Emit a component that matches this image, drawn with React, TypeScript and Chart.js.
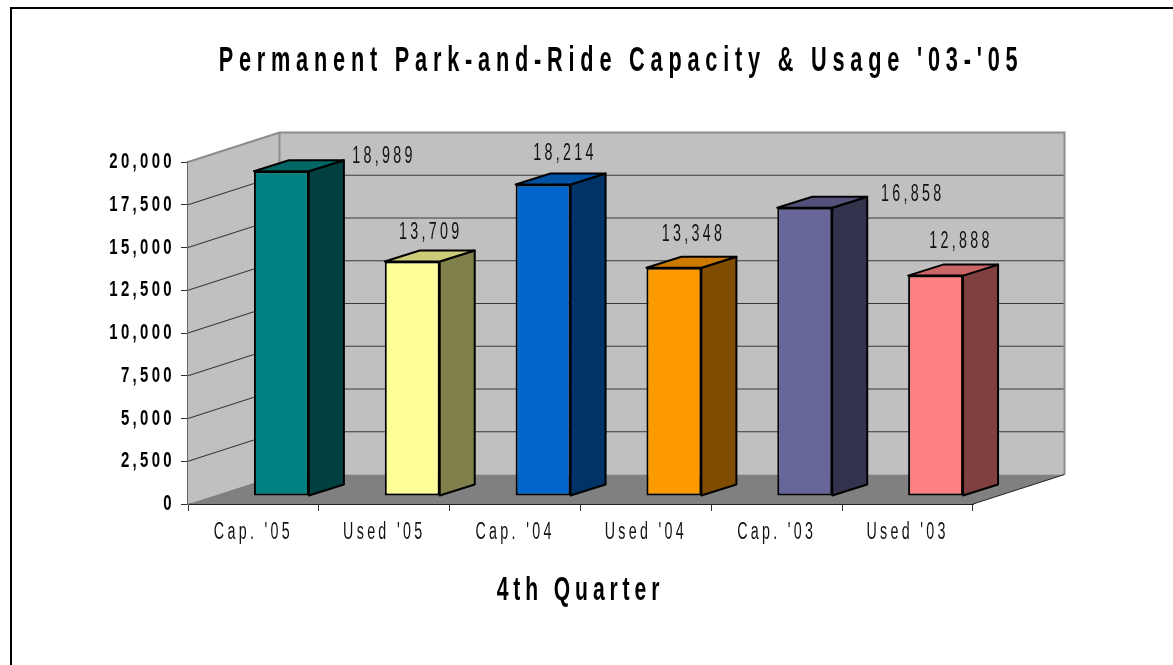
import React, { useEffect, useRef } from "react";
import { Chart, registerables } from "chart.js";

Chart.register(...registerables);

const categories = ["Cap. '05", "Used '05", "Cap. '04", "Used '04", "Cap. '03", "Used '03"];
const values = [18989, 13709, 18214, 13348, 16858, 12888];
const barColors = ["#008080", "#FFFF99", "#0066CC", "#FF9900", "#666699", "#FF8080"];
const titleText = "Permanent Park-and-Ride Capacity & Usage '03-'05";
const xTitleText = "4th Quarter";

const FONT = "'Liberation Sans'";
const W = 1173;
const H = 665;
// 3D projection of the floor depth (px) and of the bars inside it
const WALL = { dx: 91.5, dy: -29.5 };
const BAR_SHIFT = { dx: 28, dy: -8 };
const BAR_DEPTH = { dx: 35, dy: -11 };
// label nudges from the front-top-centre of each bar
const LABEL_NUDGE = [
  [102.5, -15], [18.5, -29], [22, -31], [19.5, -33], [108, -13], [25.5, -34],
];
const TEXT_STYLES: Record<string, { sx: number; ls: number }> = {
  "b35": { sx: 0.62, ls: 9.35 },
  "b34": { sx: 0.62, ls: 7.9 },
  "b22": { sx: 0.68, ls: 4.9 },
  "r23": { sx: 0.62, ls: 5.35 },
};

function shade(hex: string, f: number) {
  const n = parseInt(hex.slice(1), 16);
  const c = [(n >> 16) & 255, (n >> 8) & 255, n & 255].map((v) => Math.round(v * f));
  return `rgb(${c[0]},${c[1]},${c[2]})`;
}

function patchText(ctx: any) {
  const orig = ctx.fillText;
  ctx.fillText = function (text: string, x: number, y: number) {
    const m = /(bold\s+)?.*?(\d+(?:\.\d+)?)px/.exec(ctx.font);
    const key = (m && m[1] ? "b" : "r") + (m ? Math.round(parseFloat(m[2])) : 0);
    const st = TEXT_STYLES[key] || { sx: 1, ls: 0 };
    ctx.save();
    ctx.translate(x, y);
    ctx.scale(st.sx, 1);
    ctx.letterSpacing = st.ls + "px";
    orig.call(ctx, text, 0, 0);
    ctx.restore();
  };
}

function poly(ctx: any, pts: number[][]) {
  ctx.beginPath();
  pts.forEach((p, i) => (i ? ctx.lineTo(p[0], p[1]) : ctx.moveTo(p[0], p[1])));
  ctx.closePath();
}

const scene3d = {
  id: "scene3d",
  afterLayout(chart: any) {
    const t = chart.titleBlock;
    if (t) {
      t.left = 269;
      t.right = 973;
    }
  },
  beforeDraw(chart: any) {
    const ctx = chart.ctx;
    ctx.save();
    ctx.fillStyle = "#fff";
    ctx.fillRect(0, 0, W, H);
    ctx.strokeStyle = "#000";
    ctx.lineWidth = 2;
    ctx.beginPath();
    ctx.moveTo(11, H);
    ctx.lineTo(11, 8);
    ctx.lineTo(W, 8);
    ctx.stroke();
    ctx.restore();
  },
  beforeDatasetsDraw(chart: any) {
    const ctx = chart.ctx;
    const { left: l, right: r, top: t, bottom: b } = chart.chartArea;
    const { dx, dy } = WALL;
    ctx.save();
    // walls and floor
    ctx.fillStyle = "#C0C0C0";
    poly(ctx, [[l, t], [l + dx, t + dy], [r + dx, t + dy], [r + dx, b + dy], [l + dx, b + dy], [l, b]]);
    ctx.fill();
    ctx.fillStyle = "#808080";
    poly(ctx, [[l, b], [r, b], [r + dx, b + dy], [l + dx, b + dy]]);
    ctx.fill();
    // gridlines from the value scale
    const y = chart.scales.y;
    ctx.strokeStyle = "#3a3a3a";
    ctx.lineWidth = 1.2;
    y.ticks.forEach((tk: any) => {
      if (tk.value === 0 || tk.value === y.max) return;
      const py = y.getPixelForValue(tk.value);
      ctx.beginPath();
      ctx.moveTo(l, py);
      ctx.lineTo(l + dx, py + dy);
      ctx.lineTo(r + dx, py + dy);
      ctx.stroke();
    });
    // wall edges
    ctx.strokeStyle = "#8c8c8c";
    ctx.lineWidth = 2;
    ctx.beginPath();
    ctx.moveTo(l, t);
    ctx.lineTo(l + dx, t + dy);
    ctx.lineTo(r + dx, t + dy);
    ctx.lineTo(r + dx, b + dy);
    ctx.moveTo(l + dx, t + dy);
    ctx.lineTo(l + dx, b + dy);
    ctx.stroke();
    ctx.strokeStyle = "#222";
    ctx.lineWidth = 1;
    ctx.beginPath();
    ctx.moveTo(r, b);
    ctx.lineTo(r + dx, b + dy);
    ctx.stroke();
    // side and top faces of the bars
    const meta = chart.getDatasetMeta(0);
    ctx.strokeStyle = "#000";
    ctx.lineWidth = 2;
    ctx.lineJoin = "round";
    meta.data.forEach((el: any, i: number) => {
      const { x, y: top, base, width } = el.getProps(["x", "y", "base", "width"], true);
      const x0 = x - width / 2 + BAR_SHIFT.dx;
      const x1 = x + width / 2 + BAR_SHIFT.dx;
      const yt = top + BAR_SHIFT.dy;
      const yb = base + BAR_SHIFT.dy;
      const ox = BAR_DEPTH.dx;
      const oy = BAR_DEPTH.dy;
      ctx.fillStyle = shade(barColors[i], 0.5);
      poly(ctx, [[x1, yt], [x1 + ox, yt + oy], [x1 + ox, yb + oy], [x1, yb]]);
      ctx.fill();
      ctx.stroke();
      ctx.fillStyle = shade(barColors[i], 0.8);
      poly(ctx, [[x0, yt], [x0 + ox, yt + oy], [x1 + ox, yt + oy], [x1, yt]]);
      ctx.fill();
      ctx.stroke();
    });
    ctx.restore();
  },
  beforeDatasetDraw(chart: any) {
    chart.ctx.save();
    chart.ctx.translate(BAR_SHIFT.dx, BAR_SHIFT.dy);
  },
  afterDatasetDraw(chart: any) {
    chart.ctx.restore();
  },
  afterDatasetsDraw(chart: any) {
    const ctx = chart.ctx;
    const meta = chart.getDatasetMeta(0);
    ctx.save();
    ctx.font = `23px ${FONT}`;
    ctx.fillStyle = "#111";
    ctx.textAlign = "center";
    ctx.textBaseline = "middle";
    meta.data.forEach((el: any, i: number) => {
      const { x, y } = el.getProps(["x", "y"], true);
      ctx.fillText(
        values[i].toLocaleString("en-US"),
        x + BAR_SHIFT.dx + LABEL_NUDGE[i][0],
        y + BAR_SHIFT.dy + LABEL_NUDGE[i][1]
      );
    });
    ctx.restore();
  },
};

export default function App() {
  const ref = useRef<HTMLCanvasElement>(null);
  useEffect(() => {
    const canvas = ref.current!;
    patchText(canvas.getContext("2d"));
    const chart = new Chart(canvas, {
      type: "bar",
      data: {
        labels: categories,
        datasets: [
          {
            label: "Spaces",
            data: values,
            backgroundColor: barColors,
            borderColor: "#000",
            borderWidth: 2,
            borderSkipped: false,
            barPercentage: 0.42,
            categoryPercentage: 1,
            clip: false,
          } as any,
        ],
      },
      plugins: [scene3d],
      options: {
        responsive: false,
        animation: false,
        devicePixelRatio: 1,
        layout: { padding: { left: 0, right: W - 973, top: 0, bottom: 0 } },
        plugins: {
          legend: { display: false },
          tooltip: { enabled: false },
          title: {
            display: true,
            text: titleText,
            color: "#000",
            font: { family: FONT, size: 35, weight: "bold", lineHeight: 1.2 },
            padding: { top: 40, bottom: 80 },
          },
        },
        scales: {
          x: {
            grid: { drawOnChartArea: false, tickLength: 7, tickColor: "#333", tickWidth: 1 },
            border: { color: "#222", width: 2 },
            ticks: {
              color: "#111",
              autoSkip: false,
              minRotation: 0,
              maxRotation: 0,
              padding: 8,
              font: { family: FONT, size: 23 },
            },
            title: {
              display: true,
              text: xTitleText,
              color: "#000",
              font: { family: FONT, size: 34, weight: "bold", lineHeight: 1.2 },
              padding: { top: 10, bottom: 54 },
            },
            afterFit(s: any) {
              s.height = H - 504;
            },
          },
          y: {
            min: 0,
            max: 20000,
            grid: { drawOnChartArea: false, tickLength: 7, tickColor: "#333", tickWidth: 1 },
            border: { color: "#666", width: 2 },
            ticks: {
              stepSize: 2500,
              color: "#000",
              padding: 6,
              font: { family: FONT, size: 22, weight: "bold" },
              callback: (v: any) => Number(v).toLocaleString("en-US"),
            },
            afterFit(s: any) {
              s.width = 188;
            },
          },
        },
      },
    } as any);
    return () => chart.destroy();
  }, []);
  return (
    <canvas
      ref={ref}
      width={W}
      height={H}
      style={{ position: "absolute", left: 0, top: 0, display: "block" }}
    />
  );
}
